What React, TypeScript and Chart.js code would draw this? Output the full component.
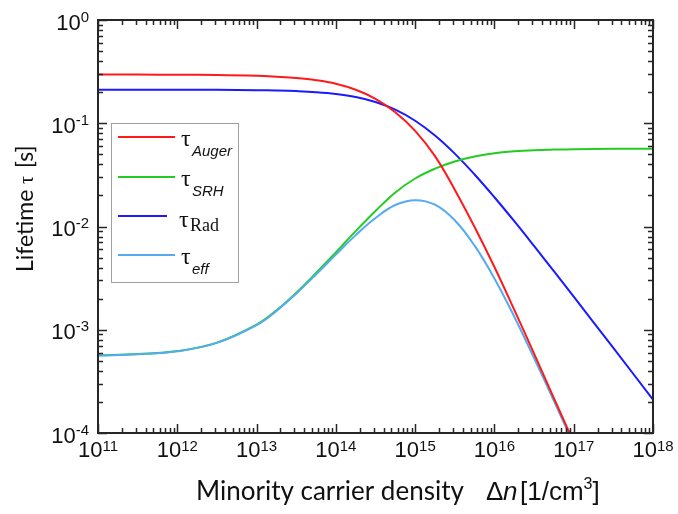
import React, { useEffect, useRef } from 'react';
import { Chart, registerables } from 'chart.js';

Chart.register(...registerables);

// Excess carrier density Δn [1/cm³]
const densities = [
  1e11, 3.16e11, 1e12, 3.16e12, 1e13, 1.78e13, 3.16e13, 5.62e13, 1e14, 1.78e14, 3.16e14, 5.62e14,
  1e15, 1.78e15, 3.16e15, 5.62e15, 1e16, 1.78e16, 3.16e16, 5.62e16, 1e17, 3.16e17, 1e18,
];
// Lifetimes [s]
const tauAuger = [
  0.2958, 0.2958, 0.2951, 0.2931, 0.2877, 0.2818, 0.2742, 0.2612, 0.241, 0.2109, 0.1726, 0.128,
  0.0845, 0.0481, 0.02275, 0.00989, 0.00405, 0.00156, 5.88e-4, 2.18e-4, 8.1e-5, null, null,
];
const tauSRH = [
  5.65e-4, 5.83e-4, 6.21e-4, 7.5e-4, 1.12e-3, 1.54e-3, 2.28e-3, 3.54e-3, 5.62e-3, 9.02e-3, 0.01413, 0.02138,
  0.02917, 0.0363, 0.04266, 0.04764, 0.05129, 0.05346, 0.05483, 0.05559, 0.0561, 0.05649, 0.05675,
];
const tauRad = [
  0.2113, 0.2113, 0.2111, 0.2106, 0.2092, 0.2076, 0.2048, 0.2001, 0.1921, 0.1794, 0.1606, 0.1353,
  0.1057, 0.0761, 0.0508, 0.0319, 0.0192, 0.01125, 0.00648, 0.00369, 0.00209, 6.66e-4, 2.11e-4,
];
const tauEff = [
  5.62e-4, 5.8e-4, 6.18e-4, 7.46e-4, 1.109e-3, 1.522e-3, 2.237e-3, 3.43e-3, 5.34e-3, 8.25e-3, 0.01208, 0.01614,
  0.018, 0.01626, 0.01148, 0.00652, 0.003137, 0.001338, 5.33e-4, 2.05e-4, 7.8e-5, null, null,
];

const seriesSubscripts = ['Auger', 'SRH', 'Rad', 'eff'];
const seriesColors = ['#ff1a1a', '#22cc22', '#1a1aff', '#55aaf2'];

const xTickExponents = [11, 12, 13, 14, 15, 16, 17, 18];
const yTickExponents = [-4, -3, -2, -1, 0];
const xTitleMain = 'Minority carrier density';
const yTitleMain = 'Lifetime';

const SANS = '"Liberation Sans", Arial, sans-serif';
const SERIF = '"Liberation Serif", "Times New Roman", serif';
const CAL = 'Lato, "Open Sans", sans-serif';

function drawPower(ctx: CanvasRenderingContext2D, exp: string, x: number, baseY: number, align: 'center' | 'right', rise: number) {
  ctx.font = `22px ${SANS}`;
  const wb = ctx.measureText('10').width;
  ctx.font = `15px ${SANS}`;
  const we = ctx.measureText(exp).width;
  const total = wb + we;
  const start = align === 'center' ? x - total / 2 : x - total;
  ctx.textAlign = 'left';
  ctx.textBaseline = 'alphabetic';
  ctx.font = `22px ${SANS}`;
  ctx.fillText('10', start, baseY);
  ctx.font = `15px ${SANS}`;
  ctx.fillText(exp, start + wb, baseY - rise);
}

const decor = {
  id: 'decor',
  afterDraw(chart: any) {
    const ctx: CanvasRenderingContext2D = chart.ctx;
    const xs = chart.scales.x;
    const ys = chart.scales.y;
    const { left, right, top, bottom } = chart.chartArea;
    ctx.save();
    ctx.fillStyle = '#111';
    ctx.strokeStyle = '#262626';

    // ticks (inward, mirrored)
    ctx.lineWidth = 1.5;
    ctx.beginPath();
    for (let e = xTickExponents[0]; e <= xTickExponents[xTickExponents.length - 1]; e++) {
      for (let m = 1; m <= 9; m++) {
        const v = m * Math.pow(10, e);
        if (v > 1e18 * 1.0001) continue;
        const px = Math.round(xs.getPixelForValue(v)) + 0.5;
        const len = m === 1 ? 9 : 5;
        ctx.moveTo(px, bottom);
        ctx.lineTo(px, bottom - len);
        ctx.moveTo(px, top);
        ctx.lineTo(px, top + len);
      }
    }
    for (let e = yTickExponents[0]; e <= yTickExponents[yTickExponents.length - 1]; e++) {
      for (let m = 1; m <= 9; m++) {
        const v = m * Math.pow(10, e);
        if (v > 1.0001) continue;
        const py = Math.round(ys.getPixelForValue(v)) + 0.5;
        const len = m === 1 ? 9 : 5;
        ctx.moveTo(left, py);
        ctx.lineTo(left + len, py);
        ctx.moveTo(right, py);
        ctx.lineTo(right - len, py);
      }
    }
    ctx.stroke();

    // frame
    ctx.lineWidth = 2;
    ctx.strokeRect(left, top, right - left, bottom - top);

    // tick labels
    xTickExponents.forEach((e) => {
      const px = xs.getPixelForValue(Math.pow(10, e));
      drawPower(ctx, String(e), px, bottom + 24, 'center', 6);
    });
    yTickExponents.forEach((e) => {
      const py = ys.getPixelForValue(Math.pow(10, e));
      drawPower(ctx, String(e), left - 9, py + 9.5, 'right', 8);
    });

    // x title
    ctx.textAlign = 'left';
    ctx.textBaseline = 'alphabetic';
    ctx.font = `26px ${CAL}`;
    ctx.fillText(xTitleMain, 196, 500);
    ctx.font = `26px ${SANS}`;
    ctx.fillText('\u0394', 486, 500);
    ctx.font = `italic 26px ${SANS}`;
    ctx.fillText('n', 503, 500);
    ctx.font = `26px ${SANS}`;
    ctx.fillText('[1/cm', 520, 500);
    const wcm = ctx.measureText('[1/cm').width;
    ctx.font = `16px ${SANS}`;
    ctx.fillText('3', 520 + wcm, 489);
    const w3 = ctx.measureText('3').width;
    ctx.font = `26px ${SANS}`;
    ctx.fillText(']', 520 + wcm + w3, 500);

    // y title (rotated)
    ctx.save();
    ctx.translate(33, 272);
    ctx.rotate(-Math.PI / 2);
    ctx.font = `23px ${CAL}`;
    ctx.fillText(yTitleMain, 0, 0);
    ctx.font = `20px ${SERIF}`;
    ctx.fillText('\u03c4', 88, 0);
    ctx.font = `23px ${CAL}`;
    ctx.fillText('[s]', 104, 0);
    ctx.restore();

    // legend
    const lx = 111, ly = 123, lw = 127, lh = 159;
    ctx.fillStyle = '#fff';
    ctx.fillRect(lx, ly, lw, lh);
    ctx.strokeStyle = '#a0a0a0';
    ctx.lineWidth = 1;
    ctx.strokeRect(lx + 0.5, ly + 0.5, lw, lh);
    const rowYs = [137, 177, 216, 255];
    seriesSubscripts.forEach((sub, i) => {
      const y = rowYs[i];
      ctx.strokeStyle = seriesColors[i];
      ctx.lineWidth = 2;
      ctx.beginPath();
      ctx.moveTo(118, y);
      ctx.lineTo(sub === 'Rad' ? 167 : 175, y);
      ctx.stroke();
      ctx.fillStyle = '#111';
      ctx.textAlign = 'left';
      if (sub === 'Rad') {
        ctx.font = `24px ${SERIF}`;
        ctx.fillText('\u03c4', 179, y + 11);
        ctx.font = `18px ${SERIF}`;
        ctx.fillText(sub, 190, y + 15);
      } else {
        ctx.font = `24px ${SERIF}`;
        ctx.fillText('\u03c4', 181, y + 9);
        ctx.font = `italic 15px ${SANS}`;
        ctx.fillText(sub, 192, y + 19);
      }
    });

    ctx.restore();
  },
};

export default function App() {
  const ref = useRef<HTMLCanvasElement | null>(null);
  useEffect(() => {
    if (!ref.current) return;
    const series = [tauAuger, tauSRH, tauRad, tauEff];
    const orders = [-2, 0, 0, -1];
    const chart = new Chart(ref.current, {
      type: 'line',
      data: {
        datasets: series.map((s, i) => ({
          label: '\u03c4 ' + seriesSubscripts[i],
          data: densities.map((d, j) => ({ x: d, y: s[j] })),
          borderColor: seriesColors[i],
          backgroundColor: seriesColors[i],
          borderWidth: 2,
          pointRadius: 0,
          fill: false,
          tension: 0.4,
          order: orders[i],
        })),
      },
      options: {
        animation: false,
        responsive: true,
        maintainAspectRatio: false,
        layout: { padding: { left: 98, top: 20, right: 25, bottom: 81 } },
        scales: {
          x: { type: 'logarithmic', min: 1e11, max: 1e18, display: false },
          y: { type: 'logarithmic', min: 1e-4, max: 1, display: false },
        },
        plugins: { legend: { display: false }, tooltip: { enabled: false } },
      },
      plugins: [decor],
    });
    return () => chart.destroy();
  }, []);
  return (
    <div style={{ position: 'fixed', left: 0, top: 0, width: 678, height: 514, background: '#fff' }}>
      <canvas ref={ref} />
    </div>
  );
}
